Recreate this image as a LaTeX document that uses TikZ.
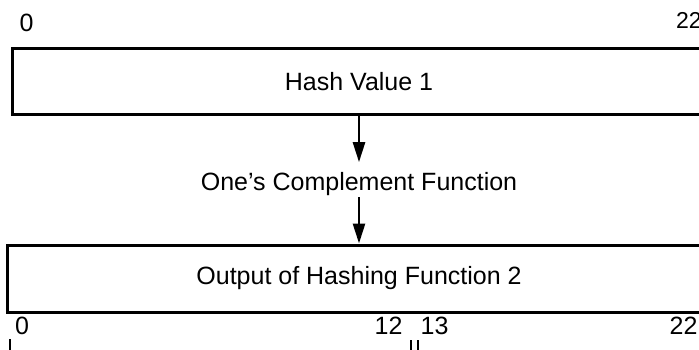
\documentclass[tikz,border=0pt]{standalone}
\usepackage{fontspec}
\setmainfont{Liberation Sans}
\usetikzlibrary{arrows.meta}
\begin{document}
\begin{tikzpicture}[x=1pt,y=-1pt,
  box/.style={draw,line width=3pt,inner sep=0pt,font=\fontsize{25}{29}\selectfont},
  txt/.style={inner sep=0pt,font=\fontsize{25}{29}\selectfont},
  num/.style={inner sep=0pt,font=\fontsize{25}{29}\selectfont},
  arr/.style={line width=2.6pt,-{Triangle[length=20pt,width=12pt]}},
  tick/.style={line width=2.4pt}]
\useasboundingbox (0,0) rectangle (699,350);
\clip (0,0) rectangle (699,350);
% boxes
\node[box,minimum width=700pt,minimum height=66pt] (hv) at (362,82) {};
\node[txt] (hvt) at (359,82) {Hash Value 1};
\node[box,minimum width=705pt,minimum height=67pt] (bv) at (359.5,278.5) {};
\node[txt] (bvt) at (359,278.5) {Output of Hashing Function 2};
% function label and arrows
\node[txt,anchor=base] (fn) at (359,190) {One’s Complement Function};
\draw[arr] (hv.south -| fn.north) -- ([yshift=9.5pt]fn.north);
\draw[arr] ([yshift=-2pt]fn.south) -- (bv.north -| fn.south);
% bit numbers
\node[num] (n0t) at (26.5,22.5) {0};
\node[num,font=\fontsize{23}{27}\selectfont,anchor=west] (n22t) at (676,20.5) {22};
\node[num] (n0b) at (22,326) {0};
\node[num] (n12) at (388.5,326) {12};
\node[num] (n13) at (434.5,326) {13};
\node[num] (n22b) at (683.5,326) {22};
% ticks
\coordinate (ta1) at (10,339);
\coordinate (ta2) at (10,351);
\coordinate (tb1) at (411,340);
\coordinate (tb2) at (411,351);
\coordinate (tc1) at (418,340);
\coordinate (tc2) at (418,351);
\draw[tick] (ta1) -- (ta2);
\draw[tick] (tb1) -- (tb2);
\draw[tick] (tc1) -- (tc2);
\end{tikzpicture}
\end{document}
